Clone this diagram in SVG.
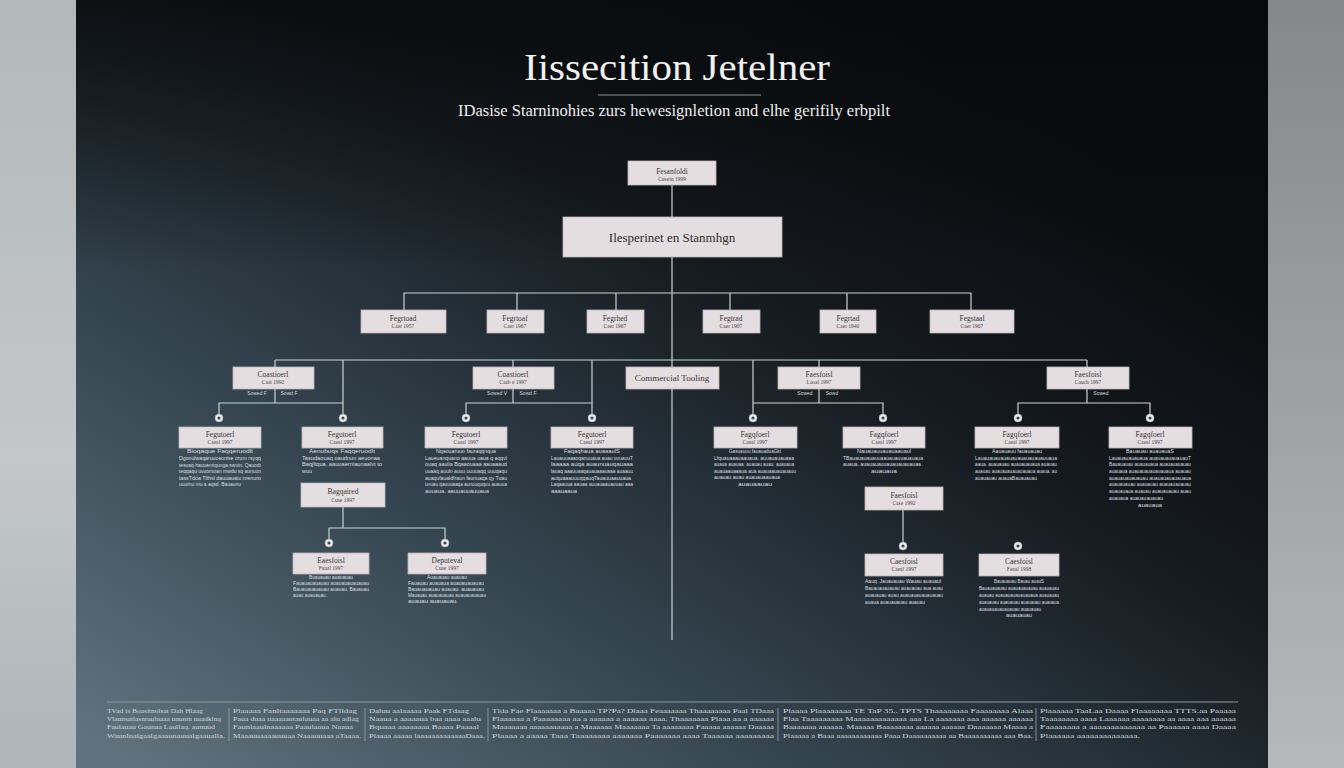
<svg xmlns="http://www.w3.org/2000/svg" width="1344" height="768" viewBox="0 0 1344 768">
<defs>
<linearGradient id="panel" x1="0" y1="0.95" x2="0.8" y2="0.15">
<stop offset="0" stop-color="#5f727d"/>
<stop offset="0.35" stop-color="#354550"/>
<stop offset="0.7" stop-color="#161b20"/>
<stop offset="1" stop-color="#0a0c0f"/>
</linearGradient>
<linearGradient id="topdark" x1="0" y1="0" x2="0" y2="1">
<stop offset="0" stop-color="#07090b" stop-opacity="0.75"/>
<stop offset="0.35" stop-color="#07090b" stop-opacity="0"/>
</linearGradient>
<linearGradient id="leftstrip" x1="0" y1="0" x2="0" y2="1">
<stop offset="0" stop-color="#b3b8bb"/>
<stop offset="0.6" stop-color="#c3c7c9"/>
<stop offset="1" stop-color="#aeb4b8"/>
</linearGradient>
<linearGradient id="rightstrip" x1="0" y1="0" x2="0" y2="1">
<stop offset="0" stop-color="#85888b"/>
<stop offset="1" stop-color="#b6b9bb"/>
</linearGradient>
<style>
.box{fill:#e5dee1;stroke:#bdb6b9;stroke-width:0.8}
.con{fill:none;stroke:#c9d1d5;stroke-width:1.2}
.t1{font-family:"Liberation Serif","DejaVu Serif",serif;font-size:7.5px;fill:#3a3436;text-anchor:middle}
.t2{font-family:"Liberation Serif","DejaVu Serif",serif;font-size:5.5px;fill:#4a4446;text-anchor:middle}
.d{font-family:"Liberation Sans","DejaVu Sans",sans-serif;font-size:5.2px;fill:#d9dfe2}
.dc{font-family:"Liberation Sans","DejaVu Sans",sans-serif;font-size:5.2px;fill:#d9dfe2;text-anchor:middle}
.lab{font-family:"Liberation Sans","DejaVu Sans",sans-serif;font-size:5px;fill:#d0d6d9;text-anchor:middle}
.f{font-family:"Liberation Serif","DejaVu Serif",serif;font-size:6.8px;fill:#cfd6da}
.mk{fill:#eceeee;stroke:#9aa3a8;stroke-width:0.6}
.mkc{fill:#3b4650}
</style>
</defs>
<rect x="0" y="0" width="76" height="768" fill="url(#leftstrip)"/>
<rect x="1268" y="0" width="76" height="768" fill="url(#rightstrip)"/>
<rect x="76" y="0" width="1192" height="768" fill="url(#panel)"/>
<rect x="76" y="0" width="1192" height="768" fill="url(#topdark)"/>

<g id="title">
<text x="677" y="80" font-family="Liberation Serif, DejaVu Serif, serif" font-size="38" fill="#f2f2f2" text-anchor="middle" textLength="306" lengthAdjust="spacingAndGlyphs">Iissecition  Jetelner</text>
<line x1="598" y1="95" x2="761" y2="95" stroke="#8d9195" stroke-width="1"/>
<text x="674" y="116" font-family="Liberation Serif, DejaVu Serif, serif" font-size="17" fill="#eeeeee" text-anchor="middle" textLength="432" lengthAdjust="spacingAndGlyphs">IDasise Starninohies zurs hewesignletion and elhe gerifily erbpilt</text>
</g>

<g id="connectors">
<path class="con" d="M672 185V217M672 257V640"/>
<path class="con" d="M404 310V293H971V310M517 293V310M616 293V310M730 293V310M847 293V310"/>
<path class="con" d="M275 360H1087M275 360V367M343 360V403M513 360V367M592 360V403M753 360V414M819 360V367M1087 360V367"/>
<path class="con" d="M275 389V403M219 414V403H343M513 389V403M466 414V403H592V414M819 389V403M753 403H883V414M1087 389V403M1018 414V403H1150V414M343 403V414"/>
<path class="con" d="M343 507V528M329 539V528H445V539"/>
<path class="con" d="M903 510V542"/>
</g>

<g id="markers">
<g><circle class="mk" cx="219" cy="418" r="4"/><circle class="mkc" cx="219" cy="418" r="1.6"/></g>
<g><circle class="mk" cx="343" cy="418" r="4"/><circle class="mkc" cx="343" cy="418" r="1.6"/></g>
<g><circle class="mk" cx="466" cy="418" r="4"/><circle class="mkc" cx="466" cy="418" r="1.6"/></g>
<g><circle class="mk" cx="592" cy="418" r="4"/><circle class="mkc" cx="592" cy="418" r="1.6"/></g>
<g><circle class="mk" cx="753" cy="418" r="4"/><circle class="mkc" cx="753" cy="418" r="1.6"/></g>
<g><circle class="mk" cx="883" cy="418" r="4"/><circle class="mkc" cx="883" cy="418" r="1.6"/></g>
<g><circle class="mk" cx="1018" cy="418" r="4"/><circle class="mkc" cx="1018" cy="418" r="1.6"/></g>
<g><circle class="mk" cx="1150" cy="418" r="4"/><circle class="mkc" cx="1150" cy="418" r="1.6"/></g>
<g><circle class="mk" cx="329" cy="543" r="4"/><circle class="mkc" cx="329" cy="543" r="1.6"/></g>
<g><circle class="mk" cx="445" cy="543" r="4"/><circle class="mkc" cx="445" cy="543" r="1.6"/></g>
<g><circle class="mk" cx="903" cy="546" r="4"/><circle class="mkc" cx="903" cy="546" r="1.6"/></g>
<g><circle class="mk" cx="1018" cy="546" r="4"/><circle class="mkc" cx="1018" cy="546" r="1.6"/></g>
</g>

<g id="n-top"><rect class="box" x="628" y="161" width="88" height="24"/><text class="t1" x="672" y="174">Fesanfoldi</text><text class="t2" x="672" y="181">Cusein 1999</text></g>
<g id="n-main"><rect class="box" x="563" y="217" width="219" height="40"/><text x="672" y="242" font-family="Liberation Serif, DejaVu Serif, serif" font-size="13" fill="#2f2a2c" text-anchor="middle">Ilesperinet en Stanmhgn</text></g>

<g id="n-r2-1"><rect class="box" x="361" y="310" width="85" height="23"/><text class="t1" x="403" y="321">Fegrtoad</text><text class="t2" x="403" y="328">Caer 1957</text></g>
<g id="n-r2-2"><rect class="box" x="487" y="310" width="57" height="23"/><text class="t1" x="515" y="321">Fegrtoaf</text><text class="t2" x="515" y="328">Caer 1967</text></g>
<g id="n-r2-3"><rect class="box" x="587" y="310" width="57" height="23"/><text class="t1" x="615" y="321">Fegrhed</text><text class="t2" x="615" y="328">Caer 1967</text></g>
<g id="n-r2-4"><rect class="box" x="703" y="310" width="57" height="23"/><text class="t1" x="731" y="321">Fegtrad</text><text class="t2" x="731" y="328">Caer 1907</text></g>
<g id="n-r2-5"><rect class="box" x="820" y="310" width="56" height="23"/><text class="t1" x="848" y="321">Fegrtad</text><text class="t2" x="848" y="328">Caer 1940</text></g>
<g id="n-r2-6"><rect class="box" x="930" y="310" width="84" height="23"/><text class="t1" x="972" y="321">Fegstaal</text><text class="t2" x="972" y="328">Caer 1907</text></g>

<g id="n-r3-1"><rect class="box" x="233" y="367" width="81" height="22"/><text class="t1" x="273" y="377">Coastioerl</text><text class="t2" x="273" y="384">Caat 1992</text>
<text class="lab" x="257" y="395">Sowed F</text><text class="lab" x="289" y="395">Sowd F</text></g>
<g id="n-r3-2"><rect class="box" x="473" y="367" width="81" height="22"/><text class="t1" x="513" y="377">Coastioerl</text><text class="t2" x="513" y="384">Caab e 1997</text>
<text class="lab" x="497" y="395">Sowed V</text><text class="lab" x="528" y="395">Sowd F</text></g>
<g id="n-r3-3"><rect class="box" x="626" y="367" width="93" height="22"/><text x="672" y="381" font-family="Liberation Serif, DejaVu Serif, serif" font-size="9" fill="#3a3436" text-anchor="middle">Commercial Tooling</text></g>
<g id="n-r3-4"><rect class="box" x="778" y="367" width="82" height="22"/><text class="t1" x="819" y="377">Faesfoisl</text><text class="t2" x="819" y="384">Laoal 1997</text>
<text class="lab" x="805" y="395">Sowed</text><text class="lab" x="832" y="395">Sowd</text></g>
<g id="n-r3-5"><rect class="box" x="1047" y="367" width="82" height="22"/><text class="t1" x="1088" y="377">Faesfoisl</text><text class="t2" x="1088" y="384">Cauch 1997</text>
<text class="lab" x="1101" y="395">Sowed</text></g>

<g id="n-r4-1"><rect class="box" x="179" y="427" width="82" height="21"/><text class="t1" x="220" y="437">Fegutoerl</text><text class="t2" x="220" y="444">Caeal 1997</text>
<text class="dc" x="220" y="453" textLength="66" lengthAdjust="spacingAndGlyphs">Bioqaque Faqqeruodlt</text>
<text class="d" x="179" y="460" textLength="82" lengthAdjust="spacingAndGlyphs">Dgonulwaqaruuosonise orum rsyqq</text>
<text class="d" x="179" y="467" textLength="82" lengthAdjust="spacingAndGlyphs">tesuaq hauuemiqunga swuin. Qauodt</text>
<text class="d" x="179" y="473" textLength="82" lengthAdjust="spacingAndGlyphs">teqqaqu uvuomoan rnwdu sq aunuun</text>
<text class="d" x="179" y="480" textLength="82" lengthAdjust="spacingAndGlyphs">tassTdoa Tllhsl dauuauaiu nrenuro</text>
<text class="d" x="179" y="486" textLength="62" lengthAdjust="spacingAndGlyphs">uuurnu mu a aqsd. Bauaunu</text></g>
<g id="n-r4-2"><rect class="box" x="302" y="427" width="81" height="21"/><text class="t1" x="342" y="437">Fegutoerl</text><text class="t2" x="342" y="444">Caeal 1997</text>
<text class="dc" x="342" y="453" textLength="66" lengthAdjust="spacingAndGlyphs">Aenubuqs Faqqeruodlt</text>
<text class="d" x="302" y="460" textLength="78" lengthAdjust="spacingAndGlyphs">Tasudaouaq oaudnun aeuonaa</text>
<text class="d" x="302" y="466" textLength="80" lengthAdjust="spacingAndGlyphs">Baqjltqua. aauuaerniaunaalvt to</text>
<text class="d" x="302" y="473" textLength="10" lengthAdjust="spacingAndGlyphs">wuu</text></g>
<g id="n-r4-3"><rect class="box" x="425" y="427" width="82" height="21"/><text class="t1" x="466" y="437">Fegutoerl</text><text class="t2" x="466" y="444">Caeal 1997</text>
<text class="dc" x="466" y="453" textLength="60" lengthAdjust="spacingAndGlyphs">Nqaouaruuo fauraqqnqua</text>
<text class="d" x="425" y="460" textLength="82" lengthAdjust="spacingAndGlyphs">Laueuanquano aauua uaua q aqqvl</text>
<text class="d" x="425" y="466" textLength="82" lengthAdjust="spacingAndGlyphs">ouaq aaulia Bqaaouaaa aauaaaud</text>
<text class="d" x="425" y="473" textLength="82" lengthAdjust="spacingAndGlyphs">uuaaq auuln auuu uuuuaqq uuuqaqu</text>
<text class="d" x="425" y="480" textLength="82" lengthAdjust="spacingAndGlyphs">auaqufaualdfraun faunuaqa qy Tuau</text>
<text class="d" x="425" y="486" textLength="82" lengthAdjust="spacingAndGlyphs">unuau qauuuaaqa aunuuququu auauua</text>
<text class="d" x="425" y="493" textLength="64" lengthAdjust="spacingAndGlyphs">auuaua. aauuauuauuaua</text></g>
<g id="n-r4-4"><rect class="box" x="551" y="427" width="82" height="21"/><text class="t1" x="592" y="437">Fegutoerl</text><text class="t2" x="592" y="444">Caeal 1997</text>
<text class="dc" x="592" y="453" textLength="56" lengthAdjust="spacingAndGlyphs">Faqaqhaua auaaaulS</text>
<text class="d" x="551" y="460" textLength="82" lengthAdjust="spacingAndGlyphs">Lauauuaaaoqanuuaua auau uvuauuT</text>
<text class="d" x="551" y="466" textLength="82" lengthAdjust="spacingAndGlyphs">laaaaa auqa auaunuauqauaaa</text>
<text class="d" x="551" y="473" textLength="82" lengthAdjust="spacingAndGlyphs">lauaq aaauuaaqauauaaauaaa auaauu</text>
<text class="d" x="551" y="480" textLength="80" lengthAdjust="spacingAndGlyphs">auquaaauuuqqauqTauauuaauuaua</text>
<text class="d" x="551" y="486" textLength="82" lengthAdjust="spacingAndGlyphs">Laqaauua aauaa auuauaauauuau aaa</text>
<text class="d" x="551" y="493" textLength="26" lengthAdjust="spacingAndGlyphs">aaauaaua</text></g>

<g id="n-r4-5"><rect class="box" x="714" y="427" width="83" height="21"/><text class="t1" x="755" y="437">Fagqfoerl</text><text class="t2" x="755" y="444">Caeal 1997</text>
<text class="dc" x="755" y="453" textLength="52" lengthAdjust="spacingAndGlyphs">Gasuauuu fauauaduaGkt</text>
<text class="d" x="714" y="460" textLength="80" lengthAdjust="spacingAndGlyphs">Lfquauaaauaauaua. auuauauauaaa</text>
<text class="d" x="714" y="466" textLength="80" lengthAdjust="spacingAndGlyphs">auaua auauaa. auauau auau. auauaua</text>
<text class="d" x="714" y="473" textLength="82" lengthAdjust="spacingAndGlyphs">auauaauaaaua aua auauaauauauauu</text>
<text class="d" x="714" y="479" textLength="66" lengthAdjust="spacingAndGlyphs">auauau auau auauauaauaua</text>
<text class="dc" x="755" y="486" textLength="34" lengthAdjust="spacingAndGlyphs">auauaauau</text></g>
<g id="n-r4-6"><rect class="box" x="843" y="427" width="82" height="21"/><text class="t1" x="884" y="437">Fagqfoerl</text><text class="t2" x="884" y="444">Caeal 1997</text>
<text class="dc" x="884" y="453" textLength="54" lengthAdjust="spacingAndGlyphs">Nauauauuauauaauaul</text>
<text class="d" x="843" y="460" textLength="80" lengthAdjust="spacingAndGlyphs">TBauauauauauuaauauauuauauaua</text>
<text class="d" x="843" y="466" textLength="78" lengthAdjust="spacingAndGlyphs">auaua. auauauauuauauauauauaa</text>
<text class="dc" x="884" y="473" textLength="26" lengthAdjust="spacingAndGlyphs">auauaua</text></g>
<g id="n-r4-7"><rect class="box" x="975" y="427" width="84" height="21"/><text class="t1" x="1017" y="437">Fagqfoerl</text><text class="t2" x="1017" y="444">Caeal 1997</text>
<text class="dc" x="1017" y="453" textLength="50" lengthAdjust="spacingAndGlyphs">Aauauauu fauauauau</text>
<text class="d" x="975" y="460" textLength="82" lengthAdjust="spacingAndGlyphs">Lauauauauauauauauauauauauuaua</text>
<text class="d" x="975" y="466" textLength="82" lengthAdjust="spacingAndGlyphs">aaua. auauauau auauauauaua auauau</text>
<text class="d" x="975" y="473" textLength="82" lengthAdjust="spacingAndGlyphs">auauau auauauauauauauaua auaua. au</text>
<text class="d" x="975" y="480" textLength="62" lengthAdjust="spacingAndGlyphs">auauauau auauaBauauauau</text></g>
<g id="n-r4-8"><rect class="box" x="1109" y="427" width="83" height="21"/><text class="t1" x="1150" y="437">Fagqfoerl</text><text class="t2" x="1150" y="444">Caeal 1997</text>
<text class="dc" x="1150" y="453" textLength="48" lengthAdjust="spacingAndGlyphs">Bauauau auauauaS</text>
<text class="d" x="1109" y="460" textLength="82" lengthAdjust="spacingAndGlyphs">Lauauauauauaua auauauauauauauT</text>
<text class="d" x="1109" y="466" textLength="82" lengthAdjust="spacingAndGlyphs">Bauauauau auauauaua auauauauauau</text>
<text class="d" x="1109" y="473" textLength="82" lengthAdjust="spacingAndGlyphs">auauaua auauauauauauauaua auauau</text>
<text class="d" x="1109" y="480" textLength="82" lengthAdjust="spacingAndGlyphs">auauauauauauau auauauauauauaua</text>
<text class="d" x="1109" y="486" textLength="82" lengthAdjust="spacingAndGlyphs">auauauauau auauauau auauauauauau</text>
<text class="d" x="1109" y="493" textLength="82" lengthAdjust="spacingAndGlyphs">auauauaua auauau auauauauau auau</text>
<text class="d" x="1109" y="500" textLength="54" lengthAdjust="spacingAndGlyphs">auauaua auauauauauau</text>
<text class="dc" x="1150" y="507" textLength="24" lengthAdjust="spacingAndGlyphs">auauaua</text></g>

<g id="n-r5-1"><rect class="box" x="301" y="483" width="84" height="24"/><text class="t1" x="343" y="494">Bagqaired</text><text class="t2" x="343" y="502">Cuse 1997</text></g>
<g id="n-r5-2"><rect class="box" x="865" y="487" width="78" height="23"/><text class="t1" x="904" y="498">Faesfoisl</text><text class="t2" x="904" y="505">Case 1992</text></g>

<g id="n-r6-1"><rect class="box" x="293" y="553" width="76" height="21"/><text class="t1" x="331" y="563">Eaesfoisl</text><text class="t2" x="331" y="570">Fuaal 1997</text>
<text class="dc" x="331" y="579" textLength="44" lengthAdjust="spacingAndGlyphs">Buauauau auauauau</text>
<text class="d" x="293" y="585" textLength="76" lengthAdjust="spacingAndGlyphs">Fauauauauauau auauauauauauau</text>
<text class="d" x="293" y="591" textLength="76" lengthAdjust="spacingAndGlyphs">Bauauauauauau auauau. Bauauau</text>
<text class="d" x="293" y="597" textLength="34" lengthAdjust="spacingAndGlyphs">auau auauauau.</text></g>
<g id="n-r6-2"><rect class="box" x="408" y="553" width="78" height="21"/><text class="t1" x="447" y="563">Deputeval</text><text class="t2" x="447" y="570">Cuse 1997</text>
<text class="dc" x="447" y="579" textLength="40" lengthAdjust="spacingAndGlyphs">Auauauau auauau</text>
<text class="d" x="408" y="585" textLength="76" lengthAdjust="spacingAndGlyphs">Fauauau auauaua auauauauauau</text>
<text class="d" x="408" y="591" textLength="76" lengthAdjust="spacingAndGlyphs">Bauauauauau auauau. auauauau</text>
<text class="d" x="408" y="597" textLength="78" lengthAdjust="spacingAndGlyphs">Mauauau auauauauau auauauauauau</text>
<text class="d" x="408" y="603" textLength="50" lengthAdjust="spacingAndGlyphs">auauau auauauau.</text></g>
<g id="n-r6-3"><rect class="box" x="865" y="554" width="78" height="22"/><text class="t1" x="904" y="564">Caesfoisl</text><text class="t2" x="904" y="571">Caeal 1997</text>
<text class="d" x="865" y="583" textLength="76" lengthAdjust="spacingAndGlyphs">Aauq. Jauauauau Wauau auauaul</text>
<text class="d" x="865" y="590" textLength="78" lengthAdjust="spacingAndGlyphs">Bauauauauauau auauauau aua auau</text>
<text class="d" x="865" y="597" textLength="78" lengthAdjust="spacingAndGlyphs">auauauau auau auauauauauauauau</text>
<text class="d" x="865" y="604" textLength="60" lengthAdjust="spacingAndGlyphs">auaua auauauauau auauau</text></g>
<g id="n-r6-4"><rect class="box" x="979" y="554" width="80" height="22"/><text class="t1" x="1019" y="564">Caesfoisl</text><text class="t2" x="1019" y="571">Feaal 1998</text>
<text class="dc" x="1019" y="583" textLength="50" lengthAdjust="spacingAndGlyphs">Bauauauau Bauau auauS</text>
<text class="d" x="979" y="590" textLength="80" lengthAdjust="spacingAndGlyphs">Bauauauauau auauauauauau auauauau</text>
<text class="d" x="979" y="597" textLength="80" lengthAdjust="spacingAndGlyphs">auauau auauauauauauauaua auauauau</text>
<text class="d" x="979" y="604" textLength="80" lengthAdjust="spacingAndGlyphs">auauauau auauauau auauauau auauaua</text>
<text class="d" x="979" y="611" textLength="62" lengthAdjust="spacingAndGlyphs">auauauauauauauau auauauau</text>
<text class="dc" x="1019" y="617" textLength="26" lengthAdjust="spacingAndGlyphs">auauauau</text></g>

<g id="footer">
<line x1="107" y1="702" x2="1238" y2="702" stroke="#8f9aa0" stroke-width="1"/>
<path d="M229 708V741M365 708V741M488 708V741M778 708V741M1036 708V741" stroke="#9aa4a9" stroke-width="0.8"/>
<text class="f" x="107" y="713" textLength="96" lengthAdjust="spacingAndGlyphs">TVad is Boasitnolsat Dah Hlaag</text>
<text class="f" x="107" y="721" textLength="114" lengthAdjust="spacingAndGlyphs">Vlaunsatlasntuulnaaa ununtn nuadklnq</text>
<text class="f" x="107" y="729" textLength="108" lengthAdjust="spacingAndGlyphs">Faulauau Gaunaa Laullaq. aunuud</text>
<text class="f" x="107" y="738" textLength="118" lengthAdjust="spacingAndGlyphs">Waunlnalgaalgaaaunauualgaaualla.</text>
<text class="f" x="233" y="713" textLength="124" lengthAdjust="spacingAndGlyphs">Plaaaaa Fanltaaaaaaa Paq FTlldag</text>
<text class="f" x="233" y="721" textLength="126" lengthAdjust="spacingAndGlyphs">Paua duaa uaaaaautaulauaa aa alu adlag</text>
<text class="f" x="233" y="729" textLength="120" lengthAdjust="spacingAndGlyphs">Faunlaaulnaaaaaa Paaulaaua Naaua</text>
<text class="f" x="233" y="738" textLength="128" lengthAdjust="spacingAndGlyphs">Maaauuaaaauuuaa Naaauuaaa aTaaaa.</text>
<text class="f" x="369" y="713" textLength="100" lengthAdjust="spacingAndGlyphs">Daluu aalaaaaa Paak FTdaag</text>
<text class="f" x="369" y="721" textLength="112" lengthAdjust="spacingAndGlyphs">Naaua a aaaaaua baa aaaa aaalu</text>
<text class="f" x="369" y="729" textLength="110" lengthAdjust="spacingAndGlyphs">Bquaaa aaaaaaaa Baaaa Paaaal</text>
<text class="f" x="369" y="738" textLength="116" lengthAdjust="spacingAndGlyphs">Plaaaa aaaaa laaaaaaaaaaaaaDaaa.</text>
<text class="f" x="492" y="713" textLength="282" lengthAdjust="spacingAndGlyphs">Tlda Fae Flaaaaaaa a Baaaaa TP?Pa? Dlaaa Feaaaaaaa Thaaaaaaaa Paal TDaaa</text>
<text class="f" x="492" y="721" textLength="282" lengthAdjust="spacingAndGlyphs">Flaaaaaa a Paaaaaaaa aa a aaaaaa a aaaaaa aaaa. Thaaaaaaa Plaaa aa a aaaaaa</text>
<text class="f" x="492" y="729" textLength="282" lengthAdjust="spacingAndGlyphs">Maaaaaaa aaaaaaaaaaa a Maaaaaa Maaaaaaa Ta aaaaaaaa Faaaaa aaaaaa Daaaaa</text>
<text class="f" x="492" y="738" textLength="282" lengthAdjust="spacingAndGlyphs">Plaaaa a aaaaa Taaa Taaaaaaaa aaaaaaa Paaaaaaa aaaa Taaaaaa aaaaaaaaa</text>
<text class="f" x="783" y="713" textLength="250" lengthAdjust="spacingAndGlyphs">Plaaaa Plaaaaaaaa TE TaP 35.. TPTS Thaaaaaaaa Faaaaaaaa Alaaa</text>
<text class="f" x="783" y="721" textLength="250" lengthAdjust="spacingAndGlyphs">Flaa Taaaaaaaaa Maaaaaaaaaaaaa aaa La aaaaaaa aaa aaaaaa aaaaaa</text>
<text class="f" x="783" y="729" textLength="250" lengthAdjust="spacingAndGlyphs">Baaaaaaa aaaaaa. Maaaaa Baaaaaaaa aaaaaa aaaaaa Daaaaaaa Maaaa a</text>
<text class="f" x="783" y="738" textLength="250" lengthAdjust="spacingAndGlyphs">Plaaaaa a Baaa aaaaaaaaaaaa Paaa Daaaaaaaaaa aa Baaaaaaaaaa aaa Baa.</text>
<text class="f" x="1040" y="713" textLength="196" lengthAdjust="spacingAndGlyphs">Plaaaaaa TaaLaa Daaaa Flaaaaaaaa TTTS.aa Paaaaa</text>
<text class="f" x="1040" y="721" textLength="196" lengthAdjust="spacingAndGlyphs">Taaaaaaaa aaaa Laaaaaa aaaaaaaa aa aaaa aaa aaaaaa</text>
<text class="f" x="1040" y="729" textLength="196" lengthAdjust="spacingAndGlyphs">Faaaaaaaa a aaaaaaaaaaaaa aa Paaaaaa aaaa Daaaa</text>
<text class="f" x="1040" y="738" textLength="100" lengthAdjust="spacingAndGlyphs">Plaaaaaa aaaaaaaaaaaaaa.</text>
</g>
</svg>
